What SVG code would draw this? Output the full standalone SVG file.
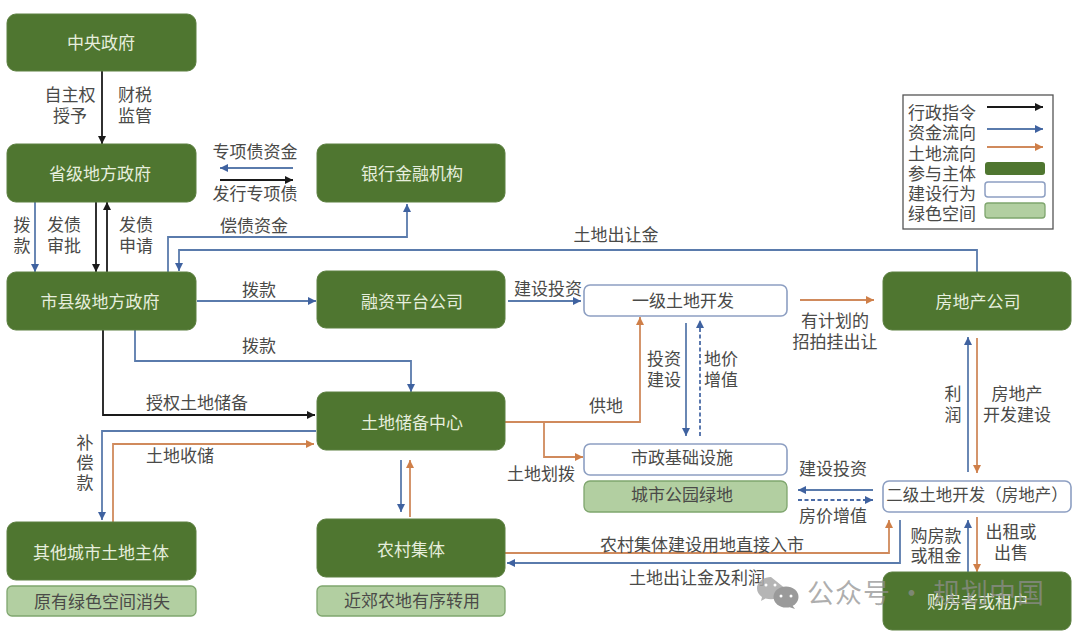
<svg xmlns="http://www.w3.org/2000/svg" width="1080" height="635" viewBox="0 0 1080 635">
<style>
text{font-family:"Noto Sans CJK SC","Noto Sans",sans-serif;font-size:17px;fill:#4a4a48;text-anchor:middle;dominant-baseline:central;transform:translateY(-1px)}
.p rect{fill:#4f7630;stroke:#5c8040;stroke-width:1}
.p text{fill:#e6eedd}
.b rect{fill:#fff;stroke:#8d9fc2;stroke-width:1.6}
.g rect{fill:#b2cfa1;stroke:#7fa66e;stroke-width:1.3}
.c path{fill:none;stroke-width:1.8}
.k{stroke:#1a1a1a;marker-end:url(#mk)}
.u{stroke:#5a7bac;marker-end:url(#mu)}
.o{stroke:#d08a5c;marker-end:url(#mo)}
.d{stroke:#4a6ba6;stroke-dasharray:4 2.5;marker-end:url(#mu)}
.w{font-size:27px;fill:#8f8f8f;fill-opacity:.72;letter-spacing:1px}
</style>
<defs>
<marker id="mk" markerUnits="userSpaceOnUse" markerWidth="9" markerHeight="9" refX="8" refY="4.5" orient="auto"><path d="M0 0.5L8 4.5L0 8.5z" fill="#1a1a1a"/></marker>
<marker id="mu" markerUnits="userSpaceOnUse" markerWidth="9" markerHeight="9" refX="8" refY="4.5" orient="auto"><path d="M0 0.5L8 4.5L0 8.5z" fill="#3f62a0"/></marker>
<marker id="mo" markerUnits="userSpaceOnUse" markerWidth="9" markerHeight="9" refX="8" refY="4.5" orient="auto"><path d="M0 0.5L8 4.5L0 8.5z" fill="#cf7f48"/></marker>
</defs>
<rect width="1080" height="635" fill="#fff"/>

<g id="connectors" class="c">
<path class="k" d="M102 71V144"/>
<path class="u" d="M35 202V272"/>
<path class="k" d="M96 202V272"/>
<path class="k" d="M107 272V202"/>
<path class="u" d="M293 168H220"/>
<path class="k" d="M220 180H293"/>
<path class="u" d="M168 272V237H407V204"/>
<path class="u" d="M977 272V250H179V271"/>
<path class="u" d="M197 301H316"/>
<path class="u" d="M135 330V361H411V392"/>
<path class="k" d="M103 330V415H315"/>
<path class="u" d="M316 431H102V520"/>
<path class="o" d="M113 522V444H314"/>
<path class="u" d="M401 460V512"/>
<path class="o" d="M410 517V460"/>
<path class="o" d="M505 422H640V317"/>
<path class="o" d="M544 422V457H583"/>
<path class="u" d="M508 301H581"/>
<path class="u" d="M686 323V436"/>
<path class="d" d="M700 436V320"/>
<path class="o" d="M800 300H874"/>
<path class="u" d="M968 472V337"/>
<path class="o" d="M977 338V473"/>
<path class="u" d="M873 490H798"/>
<path class="d" d="M798 500H873"/>
<path class="o" d="M505 553H889V520"/>
<path class="u" d="M900 520V563H507"/>
<path class="u" d="M968 572V520"/>
<path class="o" d="M977 517V572"/>
</g>

<g id="labels">
<text x="70" y="94">自主权</text><text x="70" y="115">授予</text>
<text x="135" y="94">财税</text><text x="135" y="115">监管</text>
<text x="255" y="151">专项债资金</text><text x="255" y="193">发行专项债</text>
<text x="22" y="224">拨</text><text x="22" y="245">款</text>
<text x="64" y="224">发债</text><text x="64" y="245">审批</text>
<text x="136" y="224">发债</text><text x="136" y="245">申请</text>
<text x="254" y="225">偿债资金</text>
<text x="616" y="234">土地出让金</text>
<text x="259" y="289">拨款</text><text x="259" y="345">拨款</text>
<text x="197" y="402">授权土地储备</text>
<text x="85" y="442">补</text><text x="85" y="462">偿</text><text x="85" y="482">款</text>
<text x="180" y="455">土地收储</text>
<text x="548" y="288">建设投资</text>
<text x="606" y="405">供地</text>
<text x="541" y="473">土地划拨</text>
<text x="664" y="358">投资</text><text x="664" y="379">建设</text>
<text x="721" y="358">地价</text><text x="721" y="379">增值</text>
<text x="835" y="320">有计划的</text><text x="835" y="341">招拍挂出让</text>
<text x="953" y="393">利</text><text x="953" y="414">润</text>
<text x="1017" y="393">房地产</text><text x="1017" y="414">开发建设</text>
<text x="833" y="468">建设投资</text><text x="833" y="515">房价增值</text>
<text x="702" y="544">农村集体建设用地直接入市</text>
<text x="697" y="577">土地出让金及利润</text>
<text x="936" y="535">购房款</text><text x="936" y="555">或租金</text>
<text x="1011" y="531">出租或</text><text x="1011" y="552">出售</text>
</g>

<g id="n-central" class="p"><rect x="7" y="14" width="189" height="57" rx="9"/><text x="101" y="42">中央政府</text></g>
<g id="n-province" class="p"><rect x="7" y="144" width="189" height="58" rx="9"/><text x="100" y="173">省级地方政府</text></g>
<g id="n-bank" class="p"><rect x="317" y="144" width="188" height="58" rx="9"/><text x="412" y="173">银行金融机构</text></g>
<g id="n-city" class="p"><rect x="7" y="272" width="189" height="58" rx="9"/><text x="100" y="301">市县级地方政府</text></g>
<g id="n-platform" class="p"><rect x="317" y="271" width="188" height="57" rx="9"/><text x="412" y="301">融资平台公司</text></g>
<g id="n-reserve" class="p"><rect x="317" y="392" width="188" height="58" rx="9"/><text x="412" y="422">土地储备中心</text></g>
<g id="n-other" class="p"><rect x="7" y="522" width="189" height="58" rx="9"/><text x="101" y="552">其他城市土地主体</text></g>
<g id="n-rural" class="p"><rect x="317" y="519" width="188" height="58" rx="9"/><text x="411" y="549">农村集体</text></g>
<g id="n-realestate" class="p"><rect x="883" y="272" width="188" height="58" rx="9"/><text x="978" y="301">房地产公司</text></g>
<g id="n-buyer" class="p"><rect x="883" y="572" width="188" height="58" rx="9"/><text x="978" y="601">购房者或租户</text></g>

<g id="n-primary" class="b"><rect x="584" y="285" width="203" height="31" rx="6"/><text x="683" y="300">一级土地开发</text></g>
<g id="n-muni" class="b"><rect x="584" y="444" width="203" height="31" rx="6"/><text x="682" y="457">市政基础设施</text></g>
<g id="n-secondary" class="b"><rect x="883" y="481" width="188" height="31" rx="6"/><text x="977" y="495" style="font-size:16.5px">二级土地开发（房地产）</text></g>

<g id="n-park" class="g"><rect x="584" y="481" width="203" height="31" rx="6"/><text x="682" y="494">城市公园绿地</text></g>
<g id="n-lost" class="g"><rect x="7" y="586" width="189" height="30" rx="5"/><text x="102" y="601">原有绿色空间消失</text></g>
<g id="n-farmland" class="g"><rect x="317" y="586" width="188" height="30" rx="5"/><text x="412" y="600">近郊农地有序转用</text></g>

<g id="legend">
<rect x="903" y="95" width="150" height="134" fill="#fff" stroke="#555" stroke-width="1.3"/>
<g style="text-anchor:start">
<text x="942" y="112">行政指令</text><text x="942" y="132">资金流向</text><text x="942" y="153">土地流向</text>
<text x="942" y="173">参与主体</text><text x="942" y="193">建设行为</text><text x="942" y="213">绿色空间</text>
</g>
<g class="c">
<path class="k" d="M987 107H1043"/><path class="u" d="M987 129H1043"/><path class="o" d="M987 147H1043"/>
</g>
<rect x="985" y="162" width="60" height="13" rx="3" fill="#4f7630"/>
<rect x="985" y="182" width="60" height="15" rx="3" fill="#fff" stroke="#8d9fc2" stroke-width="1.5"/>
<rect x="985" y="203" width="60" height="15" rx="3" fill="#b2cfa1" stroke="#7fa66e" stroke-width="1.3"/>
</g>

<g id="watermark">
<path d="M771 577c-7.500 0-14 5-14 11.500 0 3.500 2 6.500 5 8.500l-1 4 4.500-2.500c1.800.5 3.600.8 5.500.8 7.500 0 14-5 14-11z" fill="#a8a8a8" fill-opacity=".85"/>
<ellipse cx="786" cy="597" rx="12.500" ry="10.500" fill="#9a9a9a"/>
<path d="M792 605l3 4-6-2z" fill="#9a9a9a"/>
<circle cx="781" cy="596" r="1.500" fill="#fff"/><circle cx="791" cy="596" r="1.500" fill="#fff"/>
<circle cx="766" cy="585" r="1.500" fill="#fff"/><circle cx="775" cy="585" r="1.500" fill="#fff"/>
<text class="w" x="926" y="592">公众号 · 规划中国</text>
</g>
</svg>
